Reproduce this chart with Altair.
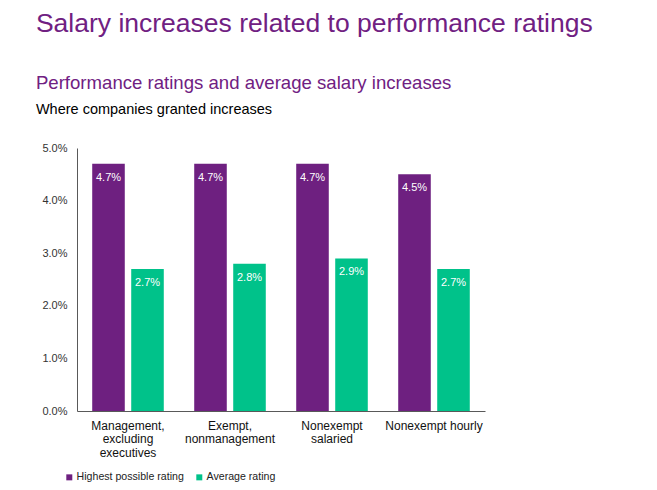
import json
import altair as alt
import pandas as pd

categories = ["Management, excluding executives", "Exempt, nonmanagement",
              "Nonexempt salaried", "Nonexempt hourly"]
label_lines = [["Management,", "excluding", "executives"],
               ["Exempt,", "nonmanagement"],
               ["Nonexempt", "salaried"],
               ["Nonexempt hourly"]]
series = ["Highest possible rating", "Average rating"]
highest = [0.047, 0.047, 0.047, 0.045]
average = [0.027, 0.028, 0.029, 0.027]
y_ticks = [0.0, 0.01, 0.02, 0.03, 0.04, 0.05]
colors = ["#6E2080", "#00C28A"]

rows = []
for c, h, a in zip(categories, highest, average):
    rows.append({"category": c, "series": series[0], "value": h})
    rows.append({"category": c, "series": series[1], "value": a})
df = pd.DataFrame(rows)

lookup = json.dumps(dict(zip(categories, label_lines)))
label_expr = f"{lookup}[datum.label]"

FONT = "Liberation Sans"
PURPLE = "#702082"

x_enc = alt.X("category:N", sort=categories,
              scale=alt.Scale(paddingInner=0, paddingOuter=0),
              axis=alt.Axis(title=None, labelAngle=0, ticks=False, domainColor="#595959",
                            labelFontSize=12, labelColor="#111111", labelPadding=9,
                            labelLineHeight=13.5, labelExpr=label_expr))
xo_enc = alt.XOffset("series:N", sort=series,
                     scale=alt.Scale(paddingInner=0.165, paddingOuter=0.39))
y_enc = alt.Y("value:Q", scale=alt.Scale(domain=[0, 0.05]),
              axis=alt.Axis(title=None, values=y_ticks, format=".1%", grid=False, ticks=False,
                            domainColor="#595959", labelFontSize=11, labelColor="#333333",
                            labelPadding=10))

bars = alt.Chart(df).mark_bar().encode(
    x=x_enc, xOffset=xo_enc, y=y_enc,
    color=alt.Color("series:N", sort=series,
                    scale=alt.Scale(domain=series, range=colors),
                    legend=alt.Legend(title=None, orient="none", legendX=-13, legendY=324,
                                      direction="horizontal", symbolType="square",
                                      symbolSize=36, labelFontSize=10.6, labelColor="#222222",
                                      labelOffset=2, columnPadding=10, symbolStrokeWidth=0)),
)
labels = alt.Chart(df).mark_text(baseline="top", dy=8, color="white", fontSize=11).encode(
    x=x_enc, xOffset=xo_enc, y=y_enc,
    text=alt.Text("value:Q", format=".1%"),
)

inner = alt.layer(bars, labels).properties(
    width=408, height=263,
    title=alt.TitleParams(text="Performance ratings and average salary increases",
                          subtitle="Where companies granted increases",
                          anchor="start", frame="bounds", dx=-6,
                          fontSize=18.6, fontWeight="normal", color=PURPLE,
                          subtitleFontSize=14.5, subtitleColor="#000000",
                          subtitlePadding=9.6, offset=26),
)

chart = alt.vconcat(inner).properties(
    title=alt.TitleParams(text="Salary increases related to performance ratings",
                          anchor="start", frame="bounds",
                          fontSize=26.5, fontWeight="normal", color=PURPLE, offset=37),
    padding={"left": 35, "top": 10, "right": 10, "bottom": 5},
).configure(font=FONT).configure_view(stroke=None)

chart.save("out.html", embed_options={"renderer": "svg", "actions": False})
